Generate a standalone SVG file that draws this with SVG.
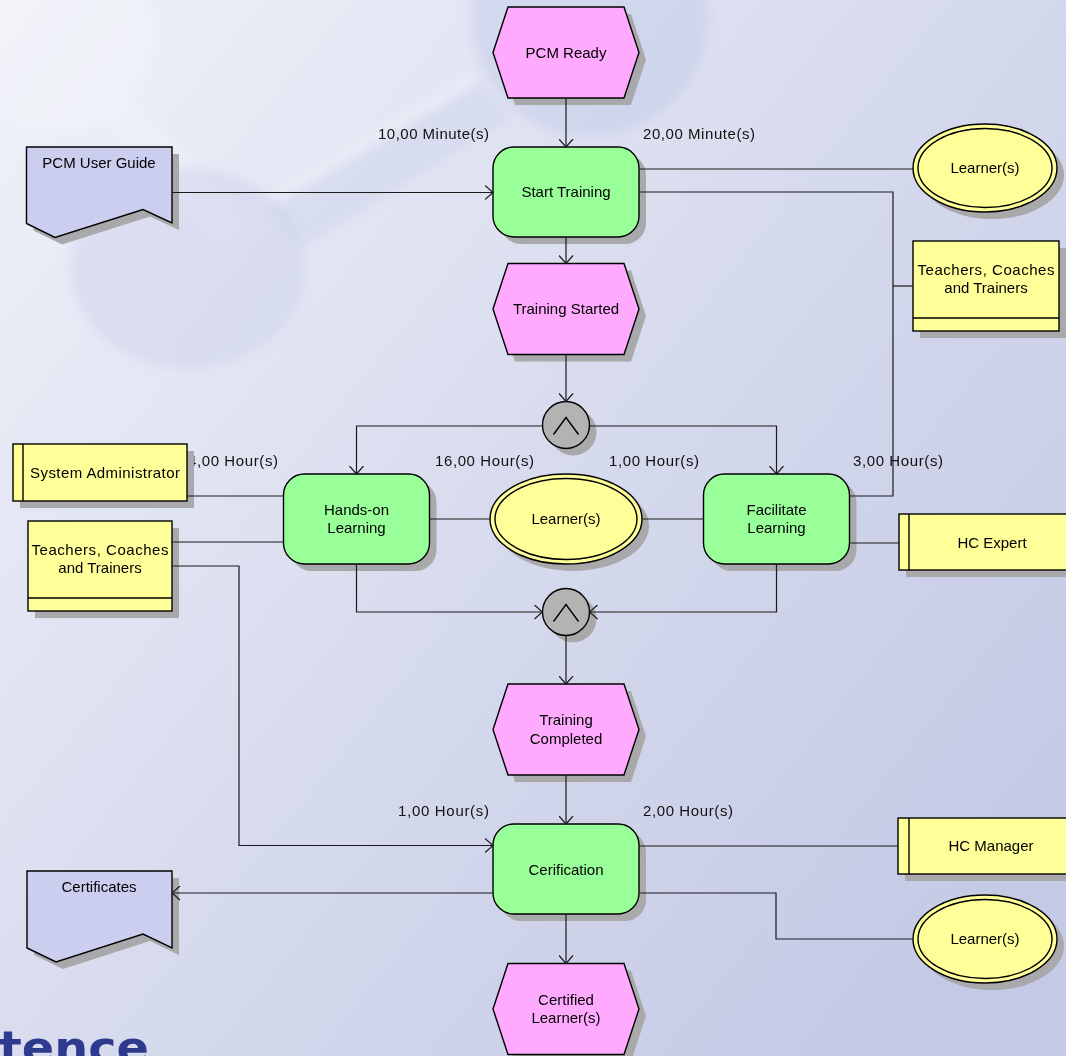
<svg xmlns="http://www.w3.org/2000/svg" xmlns:xlink="http://www.w3.org/1999/xlink" width="1066" height="1056" viewBox="0 0 1066 1056">
  <style>
    text { font-family: "Liberation Sans", Arial, sans-serif; font-size: 15px; fill: #000; }
    .c { text-anchor: middle; }
    .lbl { fill: #111; }
    .shadow { fill: #a9a9ab; stroke: none; }
    .event { fill: #ffaaff; stroke: #000; stroke-width: 1.4; }
    .func { fill: #99ff99; stroke: #000; stroke-width: 1.4; }
    .role { fill: #ffff99; stroke: #000; stroke-width: 1.4; }
    .doc { fill: #cbceee; stroke: #000; stroke-width: 1.4; }
    .gate { fill: #b3b3b3; stroke: #000; stroke-width: 1.4; }
    .line { fill: none; stroke: #000; stroke-width: 1.4; }
    .conn path { fill: none; stroke: #1a1a1a; stroke-width: 1.2; }
    .arrow { marker-end: url(#open); }
  </style>
  <defs>
    <linearGradient id="bg" x1="0" y1="0" x2="1" y2="0.8">
      <stop offset="0" stop-color="#f0f2f9"/>
      <stop offset="0.55" stop-color="#d6daed"/>
      <stop offset="1" stop-color="#c4c9e5"/>
    </linearGradient>
    <filter id="soft" x="-20%" y="-20%" width="140%" height="140%">
      <feGaussianBlur stdDeviation="5"/>
    </filter>
    <marker id="open" viewBox="0 0 9 15" refX="8.5" refY="7.5" markerWidth="9" markerHeight="15" markerUnits="userSpaceOnUse" orient="auto">
      <path d="M0.5,0.5 L8.5,7.5 L0.5,14.5" fill="none" stroke="#1a1a1a" stroke-width="1.2"/>
    </marker>
    <!-- shape templates, centred on the origin -->
    <polygon id="hex" points="-73,0 -58,-45.5 58,-45.5 73,0 58,45.5 -58,45.5"/>
    <rect id="fn" x="-73" y="-45" width="146" height="90" rx="21" ry="21"/>
    <circle id="and" r="23.5"/>
  </defs>

  <!-- background with faded logo artwork -->
  <rect width="1066" height="1056" fill="url(#bg)"/>
  <g id="watermark" filter="url(#soft)">
    <circle cx="60" cy="40" r="95" fill="#f7f8fc" opacity="0.3"/>
    <path d="M90,110 L130,95 L255,230 L215,250 Z" fill="#f4f5fb" opacity="0.35"/>
    <path d="M265,205 L480,80 L510,118 L300,250 Z" fill="#c9d0ea" opacity="0.4"/>
    <path d="M258,200 L470,72 L480,84 L266,212 Z" fill="#f3f5fb" opacity="0.4"/>
    <circle cx="590" cy="18" r="118" fill="#bcc6e5" opacity="0.4"/>
    <ellipse cx="188" cy="268" rx="118" ry="100" fill="#cbd0ea" opacity="0.45"/>
  </g>
  <text x="-1" y="1063" textLength="150" lengthAdjust="spacingAndGlyphs" style="font-family:'DejaVu Sans',sans-serif;font-size:44px;font-weight:bold;fill:#2e3a8d">tence</text>

  <!-- duration labels (drawn beneath the nodes) -->
  <g id="labels">
    <text class="lbl" x="378" y="139" textLength="111">10,00 Minute(s)</text>
    <text class="lbl" x="643" y="139" textLength="112">20,00 Minute(s)</text>
    <text class="lbl" x="188" y="466" textLength="90">4,00 Hour(s)</text>
    <text class="lbl" x="435" y="466" textLength="99">16,00 Hour(s)</text>
    <text class="lbl" x="609" y="466" textLength="90">1,00 Hour(s)</text>
    <text class="lbl" x="853" y="466" textLength="90">3,00 Hour(s)</text>
    <text class="lbl" x="398" y="816" textLength="91">1,00 Hour(s)</text>
    <text class="lbl" x="643" y="816" textLength="90">2,00 Hour(s)</text>
  </g>

  <!-- events -->
  <g id="pcm-ready">
    <use href="#hex" class="shadow" x="573" y="59.5"/>
    <use href="#hex" class="event" x="566" y="52.5"/>
    <text class="c" x="566" y="58">PCM Ready</text>
  </g>
  <g id="training-started">
    <use href="#hex" class="shadow" x="573" y="316"/>
    <use href="#hex" class="event" x="566" y="309"/>
    <text class="c" x="566" y="314">Training Started</text>
  </g>
  <g id="training-completed">
    <use href="#hex" class="shadow" x="573" y="736.5"/>
    <use href="#hex" class="event" x="566" y="729.5"/>
    <text class="c" x="566" y="725">Training</text>
    <text class="c" x="566" y="744">Completed</text>
  </g>
  <g id="certified-learners">
    <use href="#hex" class="shadow" x="573" y="1016"/>
    <use href="#hex" class="event" x="566" y="1009"/>
    <text class="c" x="566" y="1005">Certified</text>
    <text class="c" x="566" y="1023">Learner(s)</text>
  </g>

  <!-- functions -->
  <g id="start-training">
    <use href="#fn" class="shadow" x="573" y="199"/>
    <use href="#fn" class="func" x="566" y="192"/>
    <text class="c" x="566" y="197">Start Training</text>
  </g>
  <g id="hands-on-learning">
    <use href="#fn" class="shadow" x="363.5" y="526"/>
    <use href="#fn" class="func" x="356.5" y="519"/>
    <text class="c" x="356.5" y="515">Hands-on</text>
    <text class="c" x="356.5" y="533">Learning</text>
  </g>
  <g id="facilitate-learning">
    <use href="#fn" class="shadow" x="783.5" y="526"/>
    <use href="#fn" class="func" x="776.5" y="519"/>
    <text class="c" x="776.5" y="515">Facilitate</text>
    <text class="c" x="776.5" y="533">Learning</text>
  </g>
  <g id="cerification">
    <use href="#fn" class="shadow" x="573" y="876"/>
    <use href="#fn" class="func" x="566" y="869"/>
    <text class="c" x="566" y="875">Cerification</text>
  </g>

  <!-- AND rules -->
  <g id="and-split">
    <use href="#and" class="shadow" x="573" y="432"/>
    <use href="#and" class="gate" x="566" y="425"/>
    <polyline class="line" points="553.5,434.5 566,417.5 578.5,434.5"/>
  </g>
  <g id="and-join">
    <use href="#and" class="shadow" x="573" y="619"/>
    <use href="#and" class="gate" x="566" y="612"/>
    <polyline class="line" points="553.5,621.5 566,604.5 578.5,621.5"/>
  </g>

  <!-- learner groups -->
  <g id="learners-start">
    <ellipse class="shadow" cx="992" cy="175" rx="72" ry="44"/>
    <ellipse class="role" cx="985" cy="168" rx="72" ry="44"/>
    <ellipse class="line" cx="985" cy="168" rx="67" ry="39.5"/>
    <text class="c" x="985" y="173">Learner(s)</text>
  </g>
  <g id="learners-mid">
    <ellipse class="shadow" cx="573" cy="526" rx="76" ry="45"/>
    <ellipse class="role" cx="566" cy="519" rx="76" ry="45"/>
    <ellipse class="line" cx="566" cy="519" rx="71" ry="40.5"/>
    <text class="c" x="566" y="524">Learner(s)</text>
  </g>
  <g id="learners-cert">
    <ellipse class="shadow" cx="992" cy="946" rx="72" ry="44"/>
    <ellipse class="role" cx="985" cy="939" rx="72" ry="44"/>
    <ellipse class="line" cx="985" cy="939" rx="67" ry="39.5"/>
    <text class="c" x="985" y="944">Learner(s)</text>
  </g>

  <!-- organisational units and positions -->
  <g id="teachers-right">
    <rect class="shadow" x="920" y="248" width="146" height="90"/>
    <rect class="role" x="913" y="241" width="146" height="90"/>
    <path class="line" d="M913,318 H1059"/>
    <text class="c" x="986" y="275" textLength="137">Teachers, Coaches</text>
    <text class="c" x="986" y="293">and Trainers</text>
  </g>
  <g id="teachers-left">
    <rect class="shadow" x="35" y="528" width="144" height="90"/>
    <rect class="role" x="28" y="521" width="144" height="90"/>
    <path class="line" d="M28,598 H172"/>
    <text class="c" x="100" y="555" textLength="137">Teachers, Coaches</text>
    <text class="c" x="100" y="573">and Trainers</text>
  </g>
  <g id="system-administrator">
    <rect class="shadow" x="20" y="451" width="174" height="57"/>
    <rect class="role" x="13" y="444" width="174" height="57"/>
    <path class="line" d="M23,444 V501"/>
    <text class="c" x="105" y="478" textLength="150">System Administrator</text>
  </g>
  <g id="hc-expert">
    <rect class="shadow" x="906" y="521" width="180" height="56"/>
    <rect class="role" x="899" y="514" width="180" height="56"/>
    <path class="line" d="M909,514 V570"/>
    <text class="c" x="992" y="548">HC Expert</text>
  </g>
  <g id="hc-manager">
    <rect class="shadow" x="905" y="825" width="180" height="56"/>
    <rect class="role" x="898" y="818" width="180" height="56"/>
    <path class="line" d="M909,818 V874"/>
    <text class="c" x="991" y="851">HC Manager</text>
  </g>

  <!-- documents -->
  <g id="pcm-user-guide">
    <path class="shadow" d="M33.5,154 H179 V230 L150,216.5 L62,244.5 L33.5,230.5 Z"/>
    <path class="doc" d="M26.5,147 H172 V223 L143,209.5 L55,237.5 L26.5,223.5 Z"/>
    <text class="c" x="99" y="168">PCM User Guide</text>
  </g>
  <g id="certificates">
    <path class="shadow" d="M34,878 H179 V955 L150,941 L63,969 L34,955 Z"/>
    <path class="doc" d="M27,871 H172 V948 L143,934 L56,962 L27,948 Z"/>
    <text class="c" x="99" y="892">Certificates</text>
  </g>

  <!-- connectors, drawn over the node shadows so every arrowhead stays visible -->
  <g id="connectors" class="conn">
    <path class="arrow" d="M566,98 V147"/>
    <path class="arrow" d="M172,192.5 H493"/>
    <path class="arrow" d="M566,237 V263.5"/>
    <path class="arrow" d="M566,354.5 V401.5"/>
    <path class="arrow" d="M542.5,426 H356.5 V474"/>
    <path class="arrow" d="M589.5,426 H776.5 V474"/>
    <path class="arrow" d="M356.5,564 V612 H542.5"/>
    <path class="arrow" d="M776.5,564 V612 H589.5"/>
    <path class="arrow" d="M566,635.5 V684"/>
    <path class="arrow" d="M566,775 V824"/>
    <path class="arrow" d="M566,914 V963.5"/>
    <path class="arrow" d="M493,893 H172"/>
    <path class="arrow" d="M172,566 H239 V845.5 H493"/>
    <path d="M639,169 H913"/>
    <path d="M639,192 H893 V496 H849.5"/>
    <path d="M893,286 H913"/>
    <path d="M187,496 H283.5"/>
    <path d="M172,542 H283.5"/>
    <path d="M429.5,519 H490"/>
    <path d="M642,519 H703.5"/>
    <path d="M849.5,543 H899"/>
    <path d="M639,846 H898"/>
    <path d="M639,893 H776 V939 H913"/>
  </g>
</svg>
